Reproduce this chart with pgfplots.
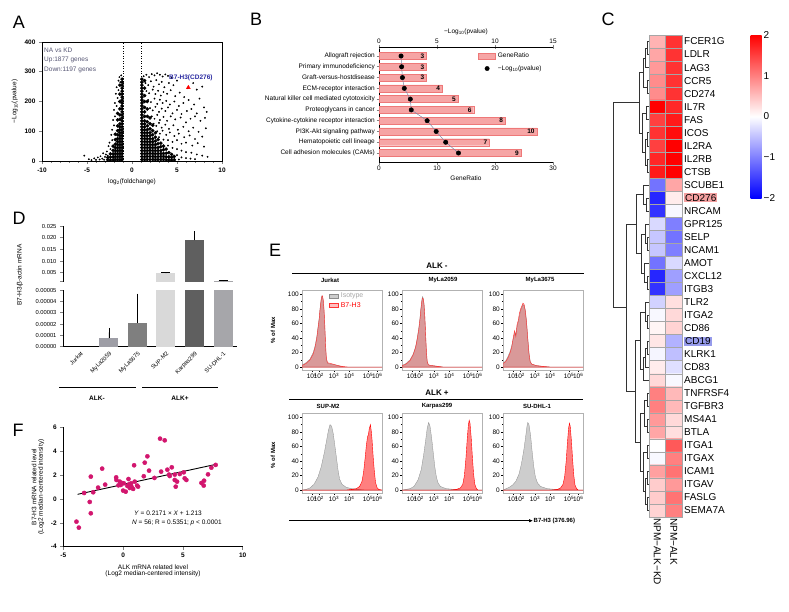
\documentclass[border=0pt]{standalone}
\usepackage{fontspec}
\setmainfont{Liberation Sans}
\usepackage{pgfplots}
\usepackage{pgfplotstable}
\pgfplotsset{compat=1.18}
\usetikzlibrary{arrows.meta}
\newcommand\fs[1]{\fontsize{#1}{#1}\selectfont}
\newcommand\dendro[5]{\draw[line width=0.5pt, black!80] (#2,#3) -- (#1,#3) -- (#1,#5) -- (#4,#5);}
\definecolor{barpink}{RGB}{246,165,165}
\definecolor{barred}{RGB}{238,120,120}
\definecolor{annot}{RGB}{85,85,115}
\definecolor{dkblue}{RGB}{40,40,160}
\definecolor{mag}{RGB}{210,22,110}
\definecolor{isogray}{RGB}{205,205,205}
\definecolor{hlpink}{RGB}{244,160,160}
\definecolor{hlblue}{RGB}{150,155,235}
\definecolor{dA}{RGB}{158,158,166}
\definecolor{dB}{RGB}{127,127,127}
\definecolor{dC}{RGB}{217,217,217}
\definecolor{dD}{RGB}{95,95,95}
\definecolor{dE}{RGB}{166,166,170}
\setlength{\fboxsep}{1pt}
\pgfplotsset{/pgf/number format/assume math mode=true}
\pgfplotsset{flow/.style={scale only axis, width=80pt, height=80pt, xmin=0, xmax=100, ymin=-4, ymax=106,
  xtick={12.5,21,40,59,82.5,94},
  xticklabels={10\textsuperscript{1},10\textsuperscript{2},10\textsuperscript{3},10\textsuperscript{4},10\textsuperscript{5},10\textsuperscript{6}},
  ytick={0,20,40,60,80,100}, minor y tick num=1,
  axis line style={black!30, line width=0.5pt}, tick style={black, line width=0.4pt},
  major tick length=2pt, minor tick length=1pt, tick align=outside, tick pos=left,
  ticklabel style={font=\fs{6.5}, inner sep=1pt}}}
\pgfplotsset{ebar/.style={error bars/.cd, y dir=plus, y explicit, error bar style={line width=0.8pt, black}, error mark options={black, line width=0.8pt, mark size=4.5pt}},
  ebarshort/.style={error bars/.cd, y dir=plus, y explicit, error bar style={line width=0.8pt, black}, error mark options={black, line width=0.8pt, mark size=4.5pt, rotate=90}}}
\pgfplotstableread{
x y c
0 1 0.6
1 1 1.6
0 2 0.7
1 2 1.6
0 3 0.8
1 3 1.6
0 4 0.9
1 4 1.6
0 5 0.9
1 5 1.6
0 6 2.0
1 6 1.7
0 7 1.5
1 7 1.8
0 8 1.6
1 8 1.9
0 9 1.5
1 9 2.0
0 10 1.7
1 10 2.0
0 11 1.8
1 11 2.0
0 12 -1.1
1 12 0.7
0 13 -1.7
1 13 0.15
0 14 -1.6
1 14 -0.05
0 15 -0.3
1 15 -1.0
0 16 -0.45
1 16 -1.1
0 17 -0.45
1 17 -1.0
0 18 -1.1
1 18 -0.3
0 19 -1.7
1 19 -0.75
0 20 -1.6
1 20 -0.75
0 21 -0.35
1 21 0.25
0 22 -0.05
1 22 0.3
0 23 0.08
1 23 0.35
0 24 0.2
1 24 -0.6
0 25 -0.08
1 25 -0.5
0 26 0.15
1 26 -0.25
0 27 0.3
1 27 -0.05
0 28 1.0
1 28 0.55
0 29 1.0
1 29 0.55
0 30 0.8
1 30 0.3
0 31 0.7
1 31 0.25
0 32 0.0
1 32 1.3
0 33 -0.05
1 33 1.0
0 34 0.75
1 34 1.1
0 35 0.4
1 35 0.8
0 36 0.4
1 36 1.1
0 37 0.35
1 37 1.0
}\heat
\begin{document}
\begin{tikzpicture}
\useasboundingbox (0,0) rectangle (789pt,-611pt);

% ================= A =================
\begin{axis}[at={(42pt,-161pt)}, anchor=south west, scale only axis, width=180pt, height=119pt,
  xmin=-10, xmax=10, ymin=0, ymax=400,
  xtick={-10,-5,0,5,10}, ytick={0,100,200,300,400},
  minor xtick={-9,-8,-7,-6,-4,-3,-2,-1,1,2,3,4,6,7,8,9},
  tick pos=left, tick align=outside, major tick length=3pt, minor tick length=1.5pt,
  tick style={line width=0.6pt}, axis line style={line width=0.8pt},
  ticklabel style={font=\fs{6.5}\bfseries},
  label style={font=\fs{6.5}},
  xlabel={log\textsubscript{2}(foldchange)},
  ylabel={−Log\textsubscript{10}(pvalue)}]
\addplot[dotted, line width=0.5pt] coordinates {(-1,0) (-1,400)};
\addplot[dotted, line width=0.5pt] coordinates {(1,0) (1,400)};
\addplot[only marks, mark=*, mark size=1.6pt, black] coordinates {
(1.1,5)(1.1,15)(1.1,25)(1.1,35)(1.1,45)(1.1,55)(1.1,65)(1.1,75)(1.1,85)(1.1,95)(1.1,105)(1.1,115)(1.1,125)(1.1,135)(1.1,145)(1.1,155)(1.1,165)(1.1,175)(1.1,185)(1.1,195)(1.1,205)(1.1,215)(1.1,225)(1.1,235)(1.1,245)(1.1,255)(1.1,265)(1.1,275)
(1.4,5)(1.4,15)(1.4,25)(1.4,35)(1.4,45)(1.4,55)(1.4,65)(1.4,75)(1.4,85)(1.4,95)(1.4,105)(1.4,115)(1.4,125)(1.4,135)(1.4,150)(1.4,165)(1.4,180)(1.4,200)(1.4,220)(1.4,245)(1.4,270)
(1.7,5)(1.7,15)(1.7,25)(1.7,35)(1.7,45)(1.7,55)(1.7,65)(1.7,75)(1.7,85)(1.7,95)(1.7,105)(1.7,118)(1.7,132)(1.7,150)(1.7,175)(1.7,200)
(2.0,5)(2.0,15)(2.0,25)(2.0,35)(2.0,45)(2.0,55)(2.0,65)(2.0,75)(2.0,85)(2.0,95)(2.0,108)(2.0,125)(2.0,145)
(2.3,5)(2.3,15)(2.3,25)(2.3,35)(2.3,45)(2.3,55)(2.3,65)(2.3,75)(2.3,88)(2.3,102)(2.3,120)
(2.6,5)(2.6,15)(2.6,25)(2.6,35)(2.6,45)(2.6,55)(2.6,67)(2.6,80)(2.6,95)
(2.9,5)(2.9,15)(2.9,25)(2.9,35)(2.9,45)(2.9,58)(2.9,72)
(3.2,5)(3.2,15)(3.2,25)(3.2,35)(3.2,48)(3.2,60)
(3.5,5)(3.5,15)(3.5,25)(3.5,38)(3.5,50)
(3.8,4)(3.8,14)(3.8,26)(3.8,40)
(4.1,4)(4.1,14)(4.1,28)
(4.4,3)(4.4,12)(4.4,22)
(4.7,4)(4.7,15)
(-1.1,5)(-1.1,15)(-1.1,25)(-1.1,35)(-1.1,45)(-1.1,55)(-1.1,65)(-1.1,75)(-1.1,85)(-1.1,95)(-1.1,105)(-1.1,115)(-1.1,125)(-1.1,135)(-1.1,145)(-1.1,155)(-1.1,165)(-1.1,175)(-1.1,185)(-1.1,195)(-1.1,205)(-1.1,215)(-1.1,225)(-1.1,235)(-1.1,245)(-1.1,255)(-1.1,265)(-1.1,275)
(-1.35,5)(-1.35,15)(-1.35,25)(-1.35,35)(-1.35,45)(-1.35,55)(-1.35,65)(-1.35,75)(-1.35,85)(-1.35,95)(-1.35,105)(-1.35,115)(-1.35,125)(-1.35,140)(-1.35,155)(-1.35,175)(-1.35,200)(-1.35,225)(-1.35,255)
(-1.6,5)(-1.6,15)(-1.6,25)(-1.6,35)(-1.6,45)(-1.6,55)(-1.6,65)(-1.6,75)(-1.6,88)(-1.6,102)(-1.6,118)(-1.6,138)(-1.6,160)
(-1.85,5)(-1.85,15)(-1.85,25)(-1.85,35)(-1.85,45)(-1.85,57)(-1.85,72)(-1.85,90)
(-2.1,4)(-2.1,14)(-2.1,24)(-2.1,36)(-2.1,50)
(-2.4,4)(-2.4,13)(-2.4,24)
(-2.7,4)(-2.7,12)
};
\addplot[only marks, mark=*, mark size=0.7pt, black] coordinates {
(1.3,285)(1.6,290)(1.9,282)(2.2,292)(2.5,288)(2.8,295)(3.1,290)(3.4,284)(3.7,291)(4.0,286)(4.4,279)
(1.5,262)(1.8,255)(2.1,268)(2.4,250)(2.7,272)(3.0,258)(3.3,266)(3.6,248)(4.1,262)(4.6,255)(5.0,270)
(1.6,235)(1.9,228)(2.3,240)(2.6,225)(2.9,236)(3.2,220)(3.5,232)(3.9,226)(4.3,238)(4.8,218)(5.3,230)(5.8,215)
(1.8,205)(2.1,198)(2.5,210)(2.8,192)(3.1,206)(3.4,195)(3.8,202)(4.2,190)(4.7,200)(5.2,185)(5.7,195)(6.3,205)(6.9,190)
(2.0,178)(2.3,170)(2.6,182)(3.0,165)(3.3,176)(3.7,168)(4.0,180)(4.5,160)(5.0,172)(5.5,158)(6.1,168)(6.6,175)(7.2,160)
(2.2,150)(2.5,142)(2.8,155)(3.1,138)(3.5,148)(3.9,135)(4.3,150)(4.8,140)(5.4,146)(6.0,130)(6.5,142)(7.0,150)(7.6,135)(8.1,145)
(2.4,125)(2.7,118)(3.0,128)(3.3,112)(3.7,122)(4.1,108)(4.6,120)(5.1,105)(5.7,115)(6.3,100)(6.8,112)(7.4,98)(8.2,110)
(2.8,100)(3.1,92)(3.4,102)(3.8,88)(4.2,96)(4.7,84)(5.2,92)(5.8,80)(6.4,86)(7.0,74)(7.8,82)
(3.0,80)(3.5,72)(4.0,70)(4.5,64)(5.0,70)(5.5,58)(6.0,62)(6.7,52)(7.3,60)(8.0,48)
(4.0,52)(4.5,44)(5.0,40)(5.5,35)(6.0,30)(6.6,28)(7.2,22)(7.8,18)(8.4,14)
(5.0,20)(5.5,12)(6.0,10)(6.5,8)(7.0,6)(5.2,5)
(7.2,240)(7.5,210)(8.0,180)(8.3,165)(7.8,250)(6.8,262)(6.2,245)
(-1.2,288)(-1.4,282)(-1.5,270)(-1.3,265)(-1.7,248)(-1.5,238)(-1.8,226)(-1.6,212)(-1.9,195)(-1.7,185)(-2.0,172)(-1.9,150)(-2.1,138)(-2.0,120)(-2.2,105)(-2.3,88)(-2.2,70)(-2.5,62)(-2.6,50)(-2.4,40)(-2.8,32)(-2.9,22)(-3.0,14)(-3.2,26)(-3.3,8)(-3.5,16)(-3.6,5)(-3.8,12)(-4.0,4)(-4.2,9)(-4.5,3)(-4.8,6)(-5.3,18)(-3.1,4)(-2.7,18)
};
\addplot[only marks, mark=triangle*, mark size=2.2pt, red] coordinates {(6.26,247)};
\end{axis}

% ================= B =================
\begin{axis}[at={(379pt,-162pt)}, anchor=south west, scale only axis, width=174pt, height=115pt,
  xmin=0, xmax=30, ymin=0.165, ymax=10.835, y dir=reverse,
  axis x line*=bottom, axis y line*=left,
  xtick={0,10,20,30}, ytick={1,...,10},
  yticklabels={Allograft rejection, Primary immunodeficiency, Graft-versus-hostdisease, ECM-receptor interaction, Natural killer cell mediated cytotoxicity, Proteoglycans in cancer, Cytokine-cytokine receptor interaction, PI3K-Akt signaling pathway, Hematopoietic cell lineage, Cell adhesion molecules (CAMs)},
  tick align=outside, major tick length=2.5pt, tick style={line width=0.6pt}, axis line style={line width=0.8pt},
  ticklabel style={font=\fs{6.5}, inner sep=1.5pt},
  label style={font=\fs{6.5}}, xlabel={GeneRatio}]
\addplot[xbar, bar width=7pt, fill=barpink, draw=barred, line width=0.3pt,
  nodes near coords, point meta=explicit symbolic,
  every node near coord/.append style={anchor=east, font=\fs{6.5}\bfseries, inner sep=1pt, xshift=-1pt}]
  coordinates {(8.16,1) [3] (8.16,2) [3] (8.16,3) [3] (10.88,4) [4] (13.6,5) [5] (16.32,6) [6] (21.76,7) [8] (27.2,8) [10] (19.04,9) [7] (24.48,10) [9]};
\end{axis}
\begin{axis}[at={(379pt,-162pt)}, anchor=south west, scale only axis, width=174pt, height=115pt,
  xmin=0, xmax=15, ymin=0.165, ymax=10.835, y dir=reverse,
  axis x line*=top, axis y line=none,
  xtick={0,5,10,15}, tick align=center, major tick length=4pt, tick style={line width=0.6pt}, axis line style={line width=0.8pt},
  ticklabel style={font=\fs{6.5}, inner sep=1pt},
  label style={font=\fs{6.5}}, xlabel={−Log\textsubscript{10}(pvalue)},
  legend style={at={(0.57,0.965)}, anchor=north west, draw=none, fill=none, font=\fs{6.5}, inner sep=0pt, row sep=2pt},
  legend cell align=left]
\addlegendimage{area legend, fill=barpink, draw=barred}
\addlegendimage{only marks, mark=*, black, mark size=2.2pt}
\addplot[color={rgb,255:red,125;green,135;blue,165}, line width=0.5pt, mark=*, mark size=2.2pt, mark options={fill=black, draw=black}]
  coordinates {(1.9,1)(1.95,2)(2.02,3)(2.18,4)(2.7,5)(2.78,6)(4.15,7)(4.93,8)(5.75,9)(6.85,10)};
\legend{GeneRatio, −Log\textsubscript{10}(pvalue)}
\end{axis}

% ================= C =================
\begin{axis}[at={(649pt,-35pt)}, anchor=north west, scale only axis, width=33pt, height=482pt,
  xmin=-0.5, xmax=1.5, ymin=0.5, ymax=37.5, y dir=reverse, enlargelimits=false,
  colormap={bwr}{rgb255=(0,0,255) rgb255=(255,255,255) rgb255=(255,0,0)},
  point meta min=-2, point meta max=2,
  xtick={0,1}, xticklabels={NPM−ALK−KD, NPM−ALK},
  xticklabel style={rotate=-90, anchor=west, font=\fs{10}, inner sep=1pt},
  ytick={1,...,37},
  yticklabels={FCER1G,LDLR,LAG3,CCR5,CD274,IL7R,FAS,ICOS,IL2RA,IL2RB,CTSB,SCUBE1,{\colorbox{hlpink}{CD276}},NRCAM,GPR125,SELP,NCAM1,AMOT,CXCL12,ITGB3,TLR2,ITGA2,CD86,{\colorbox{hlblue}{CD19}},KLRK1,CD83,ABCG1,TNFRSF4,TGFBR3,MS4A1,BTLA,ITGA1,ITGAX,ICAM1,ITGAV,FASLG,SEMA7A},
  yticklabel pos=right, yticklabel style={font=\fs{10}, inner sep=1pt, xshift=1pt},
  major tick length=0pt, minor tick length=0pt, axis line style={black!35},
  minor xtick={0.5}, minor ytick={1.5,2.5,...,36.5}, grid=minor, minor grid style={black!35, line width=0.4pt},
  axis on top,
  colorbar,
  colorbar style={at={(parent axis.north east)}, anchor=north west, xshift=60pt, scale only axis, width=11pt, height=163pt,
    ytick={-2,-1,0,1,2}, yticklabels={−2,−1,0,1,2}, yticklabel style={font=\fs{10}, inner sep=2pt},
    major tick length=0pt, axis line style={draw=none}}]
\addplot[matrix plot*, mesh/cols=2, point meta=explicit] table[meta=c] {\heat};
\end{axis}

% ================= D (values in units of 1e-5 below the break, 1e-3 above) =================
\begin{axis}[at={(63pt,-346.7pt)}, anchor=south west, scale only axis, width=174pt, height=56.7pt,
  xmin=-0.61, xmax=5.49, ymin=0, ymax=5,
  axis x line*=bottom, axis y line*=left,
  xtick={0,1,2,3,4,5}, xticklabels={Jurkat,MyLa2059,MyLa3675,SUP-M2,Karpas299,SU-DHL-1},
  xticklabel style={rotate=45, anchor=north east, font=\fs{5.8}, inner sep=1pt},
  x tick style={draw=none},
  ytick={0,1,2,3,4,5}, yticklabels={0.00000,0.00001,0.00002,0.00003,0.00004,0.00005},
  yticklabel style={font=\fs{5.8}},
  tick align=outside, major tick length=3pt, y tick style={line width=0.6pt}, axis line style={line width=0.8pt}]
\addplot[ybar, bar shift=0pt, bar width=19pt, fill=dA, draw=none, ebar] coordinates {(1,0.74) +- (0,0.53)};
\addplot[ybar, bar shift=0pt, bar width=19pt, fill=dB, draw=none, ebar] coordinates {(2,2.07) +- (0,2.21)};
% these three bars run on above the axis break (their values are in the upper axis)
\addplot[ybar, bar shift=0pt, bar width=19pt, fill=dC, draw=none] coordinates {(3,5.5)};
\addplot[ybar, bar shift=0pt, bar width=19pt, fill=dD, draw=none] coordinates {(4,5.5)};
\addplot[ybar, bar shift=0pt, bar width=19pt, fill=dE, draw=none] coordinates {(5,5.5)};
\end{axis}
\begin{axis}[at={(63pt,-226pt)}, anchor=north west, scale only axis, width=174pt, height=55.7pt,
  xmin=-0.61, xmax=5.49, ymin=1.15, ymax=25,
  axis y line*=left, axis x line=none,
  ytick={5,10,15,20,25}, yticklabels={0.005,0.010,0.015,0.020,0.025},
  extra y ticks={1.15}, extra y tick labels={},
  yticklabel style={font=\fs{5.8}},
  tick align=outside, major tick length=3pt, y tick style={line width=0.6pt}, axis line style={line width=0.8pt}]
\addplot[ybar, bar shift=0pt, bar width=19pt, fill=dC, draw=none, ebarshort] coordinates {(3,4.7) +- (0,0.45)};
\addplot[ybar, bar shift=0pt, bar width=19pt, fill=dD, draw=none, ebar] coordinates {(4,18.9) +- (0,1.9)};
\addplot[ybar, bar shift=0pt, bar width=19pt, fill=dE, draw=none, ebarshort] coordinates {(5,1.45) +- (0,0.4)};
\end{axis}

% ================= E =================
\begin{axis}[flow, at={(302pt,-370pt)}, anchor=south west,
  legend style={at={(0.34,0.99)}, anchor=north west, draw=none, fill=none, font=\fs{7}, inner sep=0pt, row sep=-1pt},
  legend cell align=left,
  legend image code/.code={\draw[#1] (0pt,-2pt) rectangle (9pt,2pt);}]
\addplot[fill=isogray, draw=black!45, line width=0.3pt] coordinates {(0,3)(5,6)(10,11)(14,20)(16.5,30)(18.5,42)(20,55)(21.5,68)(22.5,80)(23.5,90)(24.5,98)(25.5,97)(26.5,92)(27.5,78)(28.5,55)(29.5,28)(30.5,10)(32,5)(36,4)(42,3)(48,1)(55,0)(100,0)} \closedcycle;
\addplot[fill=red, fill opacity=0.25, draw=red!80, line width=0.4pt] coordinates {(0,2)(5,5)(10,10)(14,18)(16.5,28)(18.5,40)(20,53)(21.5,66)(22.5,79)(23.5,88)(24.5,96)(25.5,98)(26.5,93)(27.5,80)(28.5,58)(29.5,30)(30.5,12)(32,6)(36,5)(42,3)(50,1)(58,0)(100,0)} \closedcycle;
\legend{\textcolor{black!35}{Isotype}, \textcolor{red}{B7-H3}}
\end{axis}
\begin{axis}[flow, at={(402pt,-370pt)}, anchor=south west]
\addplot[fill=isogray, draw=black!45, line width=0.3pt] coordinates {(0,2)(5,5)(10,10)(14,18)(17,28)(19,40)(21,54)(22.5,68)(23.5,80)(24.5,90)(25.5,97)(26.5,95)(27.5,88)(28.5,70)(29.5,45)(30.5,20)(31.5,7)(33,3)(38,2)(45,1)(52,0)(100,0)} \closedcycle;
\addplot[fill=red, fill opacity=0.25, draw=red!80, line width=0.4pt] coordinates {(0,2)(5,4)(10,9)(14,17)(17,27)(19,38)(21,52)(22.5,66)(23.5,78)(24.5,88)(25.5,95)(26.5,94)(27.5,86)(28.5,70)(29.5,46)(30.5,22)(31.5,8)(33,3)(38,2)(45,1)(52,0)(100,0)} \closedcycle;
\end{axis}
\begin{axis}[flow, at={(503pt,-370pt)}, anchor=south west]
\addplot[fill=isogray, draw=black!45, line width=0.3pt] coordinates {(0,6)(3,8)(6,14)(9,22)(11,30)(13,40)(15,48)(16,44)(17.5,55)(19,62)(20.5,70)(22,78)(23.5,82)(25,86)(26.5,84)(28,78)(29.5,62)(31,40)(32.5,20)(34,8)(36,4)(42,2)(50,1)(60,0)(100,0)} \closedcycle;
\addplot[fill=red, fill opacity=0.25, draw=red!80, line width=0.4pt] coordinates {(0,5)(3,7)(6,12)(9,20)(11,28)(13,42)(14.5,50)(16,42)(17.5,58)(19,64)(20.5,74)(22,80)(23.5,84)(25,88)(26.5,86)(28,76)(29.5,60)(31,38)(32.5,18)(34,7)(36,4)(42,2)(50,1)(60,0)(100,0)} \closedcycle;
\end{axis}
\begin{axis}[flow, at={(302pt,-493pt)}, anchor=south west]
\addplot[fill=isogray, draw=black!45, line width=0.3pt] coordinates {(0,0)(5,1)(10,3)(15,8)(20,18)(24,32)(28,52)(31,70)(33,82)(35,90)(37,88)(39,78)(41,62)(43,45)(45,28)(47,15)(50,8)(55,4)(62,2)(70,1)(80,0)(100,0)} \closedcycle;
\addplot[fill=red, fill opacity=0.5, draw=red, line width=0.4pt] coordinates {(0,0)(55,0)(62,1)(68,2)(72,5)(75,12)(77,25)(79,45)(80.5,62)(82,74)(83,76)(84,84)(85.5,90)(86.5,82)(87.5,70)(89,45)(90.5,25)(92,10)(94,3)(96,1)(100,0)} \closedcycle;
\end{axis}
\begin{axis}[flow, at={(402pt,-493pt)}, anchor=south west]
\addplot[fill=isogray, draw=black!45, line width=0.3pt] coordinates {(0,0)(5,1)(10,2)(15,5)(20,14)(24,28)(27,48)(29.5,68)(31.5,85)(33.3,93)(35,88)(37,72)(39,52)(41,32)(43,18)(45,10)(48,5)(55,2)(65,1)(75,0)(100,0)} \closedcycle;
\addplot[fill=red, fill opacity=0.5, draw=red, line width=0.4pt] coordinates {(0,0)(60,0)(68,1)(73,3)(76,8)(78,20)(80,45)(81.5,70)(83,90)(84,96)(85,92)(86.5,72)(88,45)(89.5,22)(91,8)(93,2)(95,0)(100,0)} \closedcycle;
\end{axis}
\begin{axis}[flow, at={(503pt,-493pt)}, anchor=south west]
\addplot[fill=isogray, draw=black!45, line width=0.3pt] coordinates {(0,0)(4,2)(8,4)(12,7)(16,12)(20,22)(23,36)(26,55)(28.5,75)(30,88)(31,93)(32.5,90)(34.5,75)(36.5,52)(38.5,32)(40.5,18)(43,10)(47,5)(55,2)(65,1)(75,0)(100,0)} \closedcycle;
\addplot[fill=red, fill opacity=0.5, draw=red, line width=0.4pt] coordinates {(0,0)(60,0)(68,1)(72,3)(75,8)(77,18)(79,40)(80.5,65)(82,85)(83,92)(84,88)(85.5,68)(87,42)(88.5,20)(90,7)(92,2)(94,0)(100,0)} \closedcycle;
\end{axis}

% ================= F =================
\begin{axis}[at={(63.3pt,-546.7pt)}, anchor=south west, scale only axis, width=179.4pt, height=119.4pt,
  xmin=-5, xmax=10, ymin=-4, ymax=6,
  axis x line*=bottom, axis y line*=left,
  xtick={-5,0,5,10}, ytick={-4,-2,0,2,4,6},
  tick align=outside, major tick length=3pt, tick style={line width=0.6pt}, axis line style={line width=0.8pt},
  ticklabel style={font=\fs{6.5}\bfseries},
  label style={font=\fs{6.5}, align=center},
  xlabel={ALK mRNA related level\\(Log2 median-centered intensity)},
  ylabel={B7-H3 mRNA related level\\(Log2 median-centered intensity)}]
\addplot[only marks, mark=*, mark size=2.1pt, mag, mark options={draw=mag, fill=mag}] coordinates {
(-3.9,-1.9)(-3.7,-2.4)(-3.26,0.5)(-2.79,-0.25)(-2.7,1.87)(-2.7,-1.2)(-2.5,0.56)(-2.09,0.95)(-1.75,2.54)(-1.5,1.2)
(-0.58,1.81)(-0.56,1.59)(-0.39,1.14)(-0.28,1.45)(-0.11,1.34)(0,0.7)(0.22,0.61)(0.06,1.31)(0.45,1.67)(0.5,1.23)
(0.67,1.31)(0.84,0.84)(0.92,2.82)(0.97,1.45)(1.17,1.12)(1.25,1.03)(0.7,1.03)(1.73,1.9)(1.81,3.04)(2.03,3.57)
(2.17,2.37)(2.62,1.76)(3.09,5.05)(3.48,4.91)(3.18,2.29)(3.7,2.45)(3.9,1.92)(4.07,2.65)(4.32,2.04)(4.4,1.03)
(4.51,1.45)(4.74,2.09)(5.07,2.23)(5.15,1.73)(5.29,1.59)(6.55,1.34)(6.74,1.12)(6.77,1.53)(7.1,2.06)(7.38,2.62)
(7.74,2.85)(-0.2,1.17)(0.36,1.09)(0.56,0.92)(4.32,1.59)(3.84,2.04)};
\addplot[black, line width=0.9pt] coordinates {(-3.8,0.388) (7.7,2.885)};
\end{axis}

% ================= annotations =================
\begin{scope}[x=1pt, y=-1pt]
\node[font=\fs{18}] at (19,22) {A};
\node[font=\fs{18}] at (256,19) {B};
\node[font=\fs{18}] at (608,19) {C};
\node[font=\fs{18}] at (19,218) {D};
\node[font=\fs{18}] at (275,250) {E};
\node[font=\fs{18}] at (18,430) {F};
% A texts
\node[anchor=west, font=\fs{6.5}, text=annot, inner sep=0pt] at (44,50) {NA vs KD};
\node[anchor=west, font=\fs{6.5}, text=annot, inner sep=0pt] at (44,60) {Up:1877 genes};
\node[anchor=west, font=\fs{6.5}, text=annot, inner sep=0pt] at (44,70) {Down:1197 genes};
\node[anchor=west, font=\fs{6.5}\bfseries, text=dkblue, inner sep=0pt] at (169,78) {B7-H3(CD276)};
% C dendrogram
\dendro{647}{649}{41.5}{649}{54.6}
\dendro{645.5}{647}{48.05}{649}{67.6}
\dendro{647}{649}{80.6}{649}{93.7}
\dendro{643.5}{645.5}{57.8}{647}{87.15}
\dendro{646}{649}{106.7}{649}{119.7}
\dendro{647}{649}{132.7}{649}{145.8}
\dendro{647.5}{649}{158.8}{649}{171.8}
\dendro{645}{647}{139.25}{647.5}{165.3}
\dendro{642.5}{646}{113.2}{645}{152.3}
\dendro{639}{643.5}{72.5}{642.5}{132.75}
\dendro{646}{649}{197.9}{649}{210.9}
\dendro{643}{649}{184.9}{646}{204.4}
\dendro{647}{649}{237.0}{649}{250.0}
\dendro{645}{649}{224.0}{647}{243.5}
\dendro{647}{649}{276.1}{649}{289.1}
\dendro{644.5}{649}{263.0}{647}{282.6}
\dendro{641}{645}{233.75}{644.5}{272.8}
\dendro{636}{643}{194.65}{641}{253.3}
\dendro{647}{649}{315.2}{649}{328.2}
\dendro{645}{649}{302.1}{647}{321.7}
\dendro{647}{649}{341.2}{649}{354.3}
\dendro{645.5}{647}{347.75}{649}{367.3}
\dendro{643.5}{645.5}{357.5}{649}{380.3}
\dendro{640}{645}{311.9}{643.5}{368.9}
\dendro{647}{649}{393.3}{649}{406.4}
\dendro{647}{649}{419.4}{649}{432.4}
\dendro{644}{647}{399.85}{647}{425.9}
\dendro{647}{649}{445.5}{649}{458.5}
\dendro{647}{649}{471.5}{649}{484.6}
\dendro{647.5}{649}{497.6}{649}{510.6}
\dendro{645}{647}{478.05}{647.5}{504.1}
\dendro{643}{647}{452}{645}{491.1}
\dendro{640}{644}{412.9}{643}{471.5}
\dendro{635}{640}{340.4}{640}{442.2}
\dendro{626}{636}{224}{635}{391.3}
\dendro{613}{639}{102.6}{626}{307.7}
% D texts
\node[rotate=90, font=\fs{6.5}] at (20,275) {B7-H3/β-actin mRNA};
\draw[line width=0.8pt] (59,387.7) -- (136,387.7);
\draw[line width=0.8pt] (142,387.7) -- (218,387.7);
\node[font=\fs{6.5}\bfseries] at (97,398) {ALK-};
\node[font=\fs{6.5}\bfseries] at (180,398) {ALK+};
% E texts
\node[font=\fs{8}\bfseries] at (437,265.5) {ALK -};
\draw[line width=0.9pt] (292,273.3) -- (584,273.3);
\node[font=\fs{6}\bfseries] at (330,280.5) {Jurkat};
\node[font=\fs{6}\bfseries] at (443,280.5) {MyLa2059};
\node[font=\fs{6}\bfseries] at (540,280.5) {MyLa3675};
\node[font=\fs{8}\bfseries] at (437,392.5) {ALK +};
\draw[line width=0.9pt] (289,399.3) -- (583,399.3);
\node[font=\fs{6}\bfseries] at (328,406) {SUP-M2};
\node[font=\fs{6}\bfseries] at (437,406) {Karpas299};
\node[font=\fs{6}\bfseries] at (537,406) {SU-DHL-1};
\node[rotate=90, font=\fs{6}\bfseries] at (273,330) {\% of Max};
\node[rotate=90, font=\fs{6}\bfseries] at (273,455) {\% of Max};
\draw[-{Latex[length=4pt,width=3.5pt]}, line width=0.8pt] (289,520.7) -- (533,520.7);
\node[anchor=west, font=\fs{6}\bfseries, inner sep=0.5pt] at (533,520.7) {B7-H3 (376.96)};
% F texts
\node[anchor=west, font=\fs{6.5}, inner sep=0pt] at (134,513) {\textit{Y} = 0.2171 × \textit{X} + 1.213};
\node[anchor=west, font=\fs{6.5}, inner sep=0pt] at (132,522.5) {\textit{N} = 56; R = 0.5351; \textit{p} < 0.0001};
\end{scope}
\end{tikzpicture}
\end{document}
